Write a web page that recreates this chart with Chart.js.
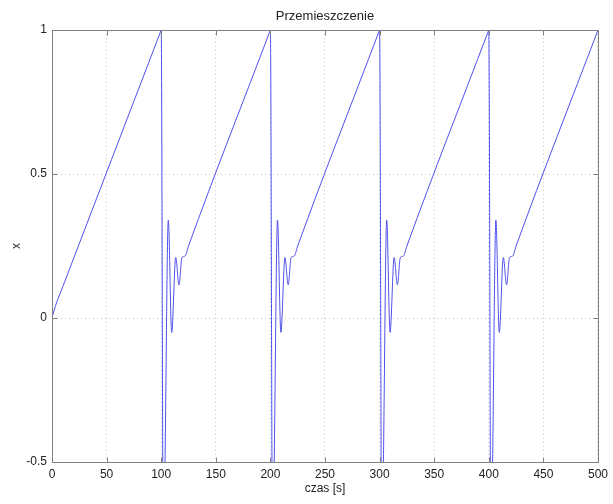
<!DOCTYPE html>
<html>
<head>
<meta charset="utf-8">
<script src="https://cdn.jsdelivr.net/npm/chart.js@4/dist/chart.umd.min.js"></script>
<style>
  html, body { margin: 0; padding: 0; background: #fff; }
</style>
</head>
<body>
<canvas id="przem" width="613" height="504"></canvas>
<script>
// czas [s]
var czas = [
  0, 3, 10, 99, 100,
  102, 103.5, 106.5, 109.6, 113.3, 116.3, 119, 121.8, 125, 199, 200,
  202, 203.5, 206.5, 209.6, 213.3, 216.3, 219, 221.8, 225, 299, 300,
  302, 303.5, 306.5, 309.6, 313.3, 316.3, 319, 321.8, 325, 399, 400,
  402, 403.5, 406.5, 409.6, 413.3, 416.3, 419, 421.8, 425, 500
];
// x
var przem = [
  0, 0.04, 0.11, 0.99, 1,
  -0.9, -0.5, 0.34, -0.05, 0.21, 0.115, 0.21, 0.215, 0.25, 0.99, 1,
  -0.9, -0.5, 0.34, -0.05, 0.21, 0.115, 0.21, 0.215, 0.25, 0.99, 1,
  -0.9, -0.5, 0.34, -0.05, 0.21, 0.115, 0.21, 0.215, 0.25, 0.99, 1,
  -0.9, -0.5, 0.34, -0.05, 0.21, 0.115, 0.21, 0.215, 0.25, 1
];
var xTicks = [0, 50, 100, 150, 200, 250, 300, 350, 400, 450, 500];
var yTicks = [-0.5, 0, 0.5, 1];

var punkty = czas.map(function (t, i) { return { x: t, y: przem[i] }; });

var osKolor = '#808080';
var tekstKolor = '#222';
var rodzina = "'Liberation Sans', Arial, sans-serif";
var czcionka = { family: rodzina, size: 12 };

// ramka wokol wykresu + krotkie znaczniki skierowane do srodka
var ramka = {
  id: 'ramka',
  afterDatasetsDraw: function (chart) {
    var a = chart.chartArea, ctx = chart.ctx;
    var sx = chart.scales.x, sy = chart.scales.y;
    var L = Math.round(a.left) + 0.5, R = Math.round(a.right) + 0.5;
    var T = Math.round(a.top) + 0.5, B = Math.round(a.bottom) + 0.5;
    ctx.save();
    ctx.strokeStyle = osKolor;
    ctx.lineWidth = 1;
    ctx.beginPath();
    xTicks.forEach(function (v) {
      var p = Math.round(sx.getPixelForValue(v)) + 0.5;
      ctx.moveTo(p, B); ctx.lineTo(p, B - 5);
      ctx.moveTo(p, T); ctx.lineTo(p, T + 5);
    });
    yTicks.forEach(function (v) {
      var p = Math.round(sy.getPixelForValue(v)) + 0.5;
      ctx.moveTo(L, p); ctx.lineTo(L + 5, p);
      ctx.moveTo(R, p); ctx.lineTo(R - 5, p);
    });
    ctx.stroke();
    ctx.strokeRect(L, T, R - L, B - T);
    ctx.restore();
  }
};

var siatka = { color: '#c8c8c8', drawTicks: false, lineWidth: 1 };

new Chart(document.getElementById('przem').getContext('2d'), {
  type: 'line',
  data: {
    datasets: [{
      data: punkty,
      borderColor: 'rgb(80,80,235)',
      borderWidth: 1,
      pointRadius: 0,
      cubicInterpolationMode: 'monotone',
      fill: false,
      clip: 0
    }]
  },
  options: {
    responsive: false,
    devicePixelRatio: 1,
    animation: false,
    parsing: false,
    layout: { padding: { left: 0, right: 15, top: 0, bottom: 0 } },
    plugins: {
      legend: { display: false },
      tooltip: { enabled: false }
    },
    scales: {
      // gorna os tylko po to, zeby tytul byl wysrodkowany nad polem wykresu
      gora: {
        type: 'linear',
        position: 'top',
        min: 0,
        max: 500,
        afterFit: function (s) { s.height = 30; },
        ticks: { display: false },
        grid: { display: false, drawTicks: false },
        border: { display: false },
        title: { display: true, text: 'Przemieszczenie', color: tekstKolor,
                 font: { family: rodzina, size: 13 }, padding: { top: 8.9, bottom: 0 } }
      },
      x: {
        type: 'linear',
        min: 0,
        max: 500,
        afterBuildTicks: function (s) { s.ticks = xTicks.map(function (v) { return { value: v }; }); },
        afterFit: function (s) { s.height = 42; },
        ticks: { color: tekstKolor, font: czcionka, padding: 5, maxRotation: 0,
                 callback: function (v) { return String(v); } },
        grid: siatka,
        border: { display: true, color: osKolor, dash: [1, 3] },
        title: { display: true, text: 'czas [s]', color: tekstKolor, font: czcionka,
                 padding: { top: 0, bottom: 7.8 } }
      },
      y: {
        type: 'linear',
        min: -0.5,
        max: 1,
        afterBuildTicks: function (s) { s.ticks = yTicks.map(function (v) { return { value: v }; }); },
        afterFit: function (s) { s.width = 52; },
        ticks: { color: tekstKolor, font: czcionka, padding: 5,
                 callback: function (v) { return String(v); } },
        grid: siatka,
        border: { display: true, color: osKolor, dash: [1, 3] },
        title: { display: true, text: 'x', color: tekstKolor, font: czcionka,
                 padding: { top: 9.8, bottom: 0 } }
      }
    }
  },
  plugins: [ramka]
});
</script>
</body>
</html>
